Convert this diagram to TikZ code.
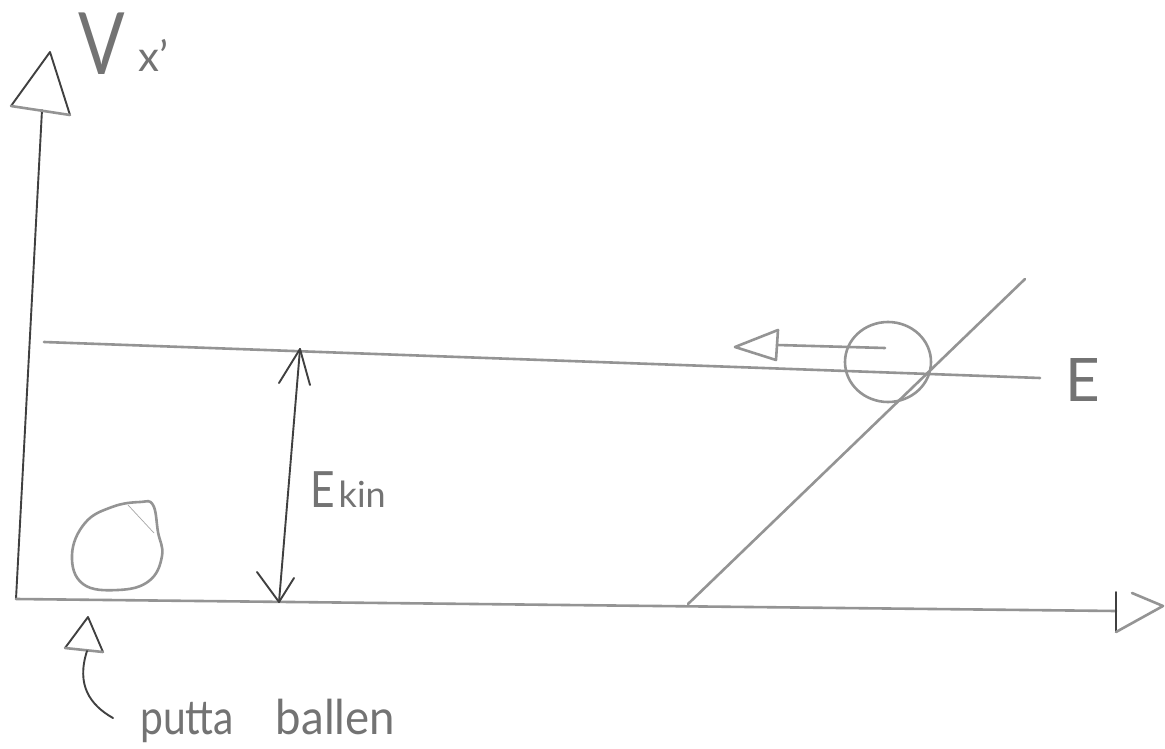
\documentclass[tikz,border=0pt]{standalone}
\usepackage{graphicx}
\usepackage{fontspec}
\setmainfont{Lato}
\begin{document}
\begin{tikzpicture}[x=1pt,y=-1pt,
  pencil/.style={draw=black!42, line width=2.6pt, line cap=round, line join=round},
  dark/.style={draw=black!75, line width=1.9pt, line cap=round, line join=round},
  hand/.style={text=black!55, inner sep=0pt, anchor=base west}]
\useasboundingbox[fill=white] (0,0) rectangle (1165,749);
% axes
\coordinate (o) at (16,599);
\coordinate (ytop) at (42,110);
\coordinate (ya) at (11,106);
\coordinate (yb) at (50,52);
\coordinate (yc) at (70,115);
\draw[dark] (o) -- (ytop);
\draw[dark] (ya) -- (yb) -- (yc);
\draw[pencil] (ya) -- (yc);
\coordinate (xend) at (1116,611);
\coordinate (xa) at (1116,592);
\coordinate (xb) at (1116,632);
\coordinate (xc) at (1163,606);
\coordinate (xd) at (1132,593);
\draw[pencil] (o) -- (xend);
\draw[dark] (xa) -- (xb);
\draw[pencil] (xb) -- (xc) -- (xd);
\node[hand, font=\fontsize{86}{86}\selectfont] (vlab) at (78,75) {\scalebox{0.8}[1]{V}};
\node[hand, font=\fontsize{42}{42}\selectfont] (xlab) at (138,72) {x'};
% energy level
\coordinate (e1) at (44,342);
\coordinate (e2) at (1040,378);
\draw[pencil] (e1) -- (e2);
\node[hand, font=\fontsize{60}{60}\selectfont] (elab) at (1065,401) {E};
% potential slope
\coordinate (d1) at (688,604);
\coordinate (d2) at (1025,279);
\draw[pencil] (d1) -- (d2);
% ball on the right and its arrow
\coordinate (ball) at (888,362);
\draw[pencil] (ball) ellipse [x radius=43pt, y radius=40pt];
\coordinate (a1) at (885,348);
\coordinate (a2) at (777,345);
\coordinate (at) at (778,330);
\coordinate (ap) at (735,347);
\coordinate (ab) at (776,360);
\draw[pencil] (a1) -- (a2);
\draw[pencil] (at) -- (ap) -- (ab) -- cycle;
% Ekin double arrow
\coordinate (k1) at (300,349);
\coordinate (k2) at (279,602);
\draw[dark] (k1) -- (k2);
\draw[dark] (279,383) -- (k1) -- (310,385);
\draw[dark] (257,572) -- (k2) -- (294,578);
\node[hand, font=\fontsize{50}{50}\selectfont] (klab) at (310,507) {\scalebox{0.85}[1]{E}\kern4pt\fontsize{36}{36}\selectfont kin};
% ball at the start
\draw[pencil] plot[smooth cycle, tension=0.7] coordinates {(72,555) (85,523) (112,507) (140,502) (153,505) (158,532) (162,556) (149,581) (118,590) (83,584)};
\draw[draw=black!35, line width=0.7pt] (128,505) -- (154,533);
% putta ballen
\coordinate (p1) at (88,617);
\coordinate (p2) at (65,648);
\coordinate (p3) at (103,652);
\draw[dark] (p2) -- (p1) -- (p3);
\draw[pencil] (p2) -- (p3);
\coordinate (s1) at (87,651);
\coordinate (s2) at (113,718);
\draw[dark] (s1) .. controls (76,685) and (90,705) .. (s2);
\node[hand, font=\fontsize{48}{48}\selectfont] (plab) at (140,734) {\scalebox{0.85}[1]{putta}\hspace{42pt}\scalebox{0.95}[1]{ballen}};
\end{tikzpicture}
\end{document}
